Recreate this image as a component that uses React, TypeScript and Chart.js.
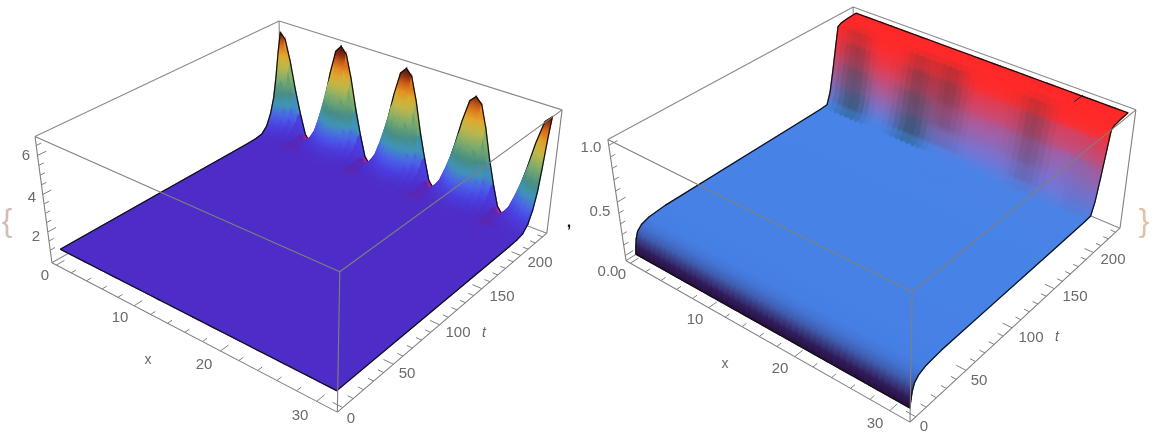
import React, { useEffect, useRef } from "react";
import { Chart, registerables } from "chart.js";

Chart.register(...registerables);

// ---------- data ----------
const xGrid = [0,.65,1.31,1.96,2.62,3.27,3.93,4.58,5.23,5.89,6.54,7.2,7.85,8.5,9.16,9.81,10.47,11.12,11.78,12.43,13.09,13.74,14.39,15.05,15.7,16.35,17.01,17.66,18.32,18.97,19.63,20.28,20.94,21.59,22.24,22.9,23.55,24.2,24.86,25.51,26.17,26.82,27.48,28.13,28.79,29.44,30.09,30.75,31.4];

const leftFlatT = [0, 100, 170, 190];
const leftFlatU = [1.0, 1.0, 1.0, 1.0];
const leftHumpT = [200, 208, 214, 219, 223, 226, 229, 232];
const leftHumpU = [
  [1.02,1.02,1.01,1,1,.99,.98,.99,1,1,1.01,1.02,1.02,1.02,1.01,1,1,.99,.98,.99,1,1,1.01,1.02,1.02,1.02,1.01,1,1,.99,.98,.99,1,1,1.01,1.02,1.02,1.02,1.01,1,1,.99,.98,.99,1,1,1.01,1.02,1.02],
  [1.1,1.09,1.07,1.03,1,.96,.93,.96,1,1.03,1.07,1.09,1.1,1.09,1.07,1.03,1,.96,.93,.96,1,1.03,1.07,1.09,1.1,1.09,1.07,1.03,1,.96,.93,.96,1,1.03,1.07,1.09,1.1,1.09,1.07,1.03,1,.96,.93,.96,1,1.03,1.07,1.09,1.1],
  [1.42,1.39,1.3,1.18,1.08,1,.92,1,1.08,1.18,1.3,1.39,1.42,1.39,1.3,1.18,1.08,1,.92,1,1.08,1.18,1.3,1.39,1.42,1.39,1.3,1.18,1.08,1,.92,1,1.08,1.18,1.3,1.39,1.42,1.39,1.3,1.18,1.08,1,.92,1,1.08,1.18,1.3,1.39,1.42],
  [2.06,1.98,1.76,1.48,1.23,1.04,.9,1.06,1.24,1.5,1.8,2.03,2.12,2.03,1.8,1.5,1.24,1.04,.9,1.06,1.23,1.48,1.76,1.98,2.06,1.98,1.76,1.48,1.23,1.04,.9,1.05,1.22,1.45,1.72,1.93,2,1.93,1.72,1.45,1.22,1.04,.9,1.06,1.23,1.47,1.74,1.96,2.04],
  [2.9,2.77,2.37,1.86,1.41,1.08,.85,1.12,1.43,1.9,2.44,2.85,3,2.85,2.44,1.9,1.43,1.08,.85,1.12,1.42,1.87,2.38,2.78,2.92,2.78,2.38,1.87,1.42,1.08,.85,1.11,1.4,1.82,2.31,2.7,2.84,2.7,2.31,1.82,1.4,1.08,.85,1.12,1.42,1.86,2.37,2.76,2.9],
  [4,3.79,3.16,2.35,1.66,1.05,.75,1.15,1.7,2.43,3.28,3.95,4.17,3.95,3.28,2.43,1.7,1.05,.75,1.15,1.69,2.41,3.25,3.91,4.13,3.91,3.25,2.41,1.69,1.05,.75,1.15,1.65,2.34,3.14,3.76,3.97,3.76,3.14,2.34,1.65,1.05,.75,1.15,1.68,2.39,3.22,3.86,4.08],
  [5.38,5.16,4.29,3.06,2.01,1,.65,1.1,2.06,3.17,4.47,5.39,5.62,5.39,4.47,3.17,2.06,1,.65,1.1,2.05,3.14,4.42,5.33,5.56,5.33,4.42,3.14,2.05,1,.65,1.1,1.99,3.03,4.24,5.1,5.32,5.1,4.24,3.03,1.99,1,.65,1.1,2.03,3.11,4.36,5.26,5.48],
  [6.47,6.14,4.94,3.41,2.09,.95,.55,1.05,2.15,3.54,5.15,6.42,6.77,6.42,5.15,3.54,2.15,.95,.55,1.05,2.14,3.51,5.1,6.36,6.7,6.36,5.1,3.51,2.14,.95,.55,1.05,2.08,3.38,4.89,6.08,6.4,6.08,4.89,3.38,2.08,.95,.55,1.05,2.12,3.46,5.03,6.26,6.6],
];

const rightT = [0,1,2,4,8,15,30,80,150,190,198,202,206,210,213,217,225,234];
const rightV = [0,.07,.13,.19,.23,.255,.27,.275,.28,.285,.29,.4,.6,.82,.98,1,1.01,1.015];
const rightStripeLow = [.05,.2,.4,.6,.75,.8,.7,.45,.2,.05,0,.05,.15,.35,.55,.75,.85,.8,.6,.35,.15,.05,0,0,.05,.05,0,0,0,0,0,0,0,0,.05,.1,.15,.15,.1,.05,0,0,0,.05,.1,.1,.1,.1,.05];
const rightStripeHigh = [0,.1,.25,.4,.5,.5,.35,.15,.05,0,0,0,.05,.1,.25,.45,.6,.55,.45,.4,.5,.65,.7,.55,.35,.15,.05,0,0,0,0,0,.05,.1,.2,.4,.55,.5,.35,.2,.05,0,0,0,0,0,0,0,0];
const rightFade = [0,0,0,0,0,0,0,0,0,0,0,0,0,0,0,0,.05,.1,.1,.15,.15,.2,.2,.25,.3,.3,.35,.35,.4,.4,.45,.5,.5,.55,.55,.6,.6,.65,.65,.7,.7,.7,.75,.75,.75,.7,.6,.5,.4];

const xTicksMajor = [0, 10, 20, 30];
const xTicksMinor = [2,4,6,8,12,14,16,18,22,24,26,28];
const tTicksMajor = [0, 50, 100, 150, 200];
const tTicksMinor = [10,20,30,40,60,70,80,90,110,120,130,140,160,170,180,190,210,220,230];
const leftZMajor = [2, 4, 6];
const leftZMinor = [1,1.5,2.5,3,3.5,4.5,5,5.5,6.5];
const rightZMajor = [0, .5, 1];
const rightZMinor = [.1,.2,.3,.4,.6,.7,.8,.9];

const leftStops: [number, number[]][] = [
  [.55,[215,30,170]],[.8,[170,35,180]],[.92,[95,36,170]],[1,[78,44,200]],[1.5,[74,63,224]],[2,[74,98,232]],[2.6,[63,149,184]],
  [3.2,[70,140,130]],[3.9,[120,170,112]],[4.7,[192,184,74]],[5.3,[228,165,40]],[5.9,[215,100,24]],[6.4,[120,35,16]],[6.8,[70,20,10]],
];
const rightStops: [number, number[]][] = [
  [0,[38,14,62]],[.07,[48,28,90]],[.13,[58,60,130]],[.19,[64,96,180]],[.25,[70,126,226]],[.29,[72,132,232]],
  [.4,[115,118,210]],[.6,[178,88,145]],[.82,[236,54,70]],[.98,[255,42,42]],[1.02,[255,40,40]],
];

// ---------- drawing set-up ----------
type Box = { corners: number[][]; xr: number[]; tr: number[]; zr: number[] };
const leftBox: Box = {
  corners: [[52,263,0,0,0],[337,412,1,0,0],[547,233,1,1,0],[35,136,0,0,1],[340,272,1,0,1],[562,110,1,1,1],[279,21,0,1,1]],
  xr: [-.6, 32], tr: [-5, 236], zr: [.3, 6.95],
};
const rightBox: Box = {
  corners: [[626,261,0,0,0],[910,422,1,0,0],[1120,228,1,1,0],[608,139,0,0,1],[912,292,1,0,1],[1136,110,1,1,1],[853,7,0,1,1]],
  xr: [-.6, 32], tr: [-5.5, 236], zr: [-.05, 1.05],
};
const labels: [string, number, number][] = [
  ["0",45,276],["10",120,318],["20",204,365],["30",300,416],["0",351,419],["50",407,374],["100",458,333],["150",502,297],["200",540,263],
  ["2",36,237],["4",32,198],["6",26,156],
  ["0",622,275],["10",695,320],["20",780,369],["30",875,424],["0",924,427],["50",979,381],["100",1031,338],["150",1075,297],["200",1113,260],
  ["1.0",591,148],["0.5",600,212],["0.0",608,272],
];
const xNames: [string, number, number][] = [["x",148,360],["x",725,364]];
const tNames: [string, number, number][] = [["t",484,333],["t",1057,337]];
const strayMark = [{ x: 1074, y: 102 }, { x: 1083, y: 95 }];

function solveProjection(corners: number[][]) {
  const A: number[][] = [];
  const b: number[] = [];
  for (const [u, v, X, T, Z] of corners) {
    A.push([1, X, T, Z, 0, 0, 0, 0, -u * X, -u * T, -u * Z]); b.push(u);
    A.push([0, 0, 0, 0, 1, X, T, Z, -v * X, -v * T, -v * Z]); b.push(v);
  }
  const n = 11;
  const M: number[][] = [];
  for (let i = 0; i < n; i++) {
    const row: number[] = [];
    for (let j = 0; j < n; j++) row.push(A.reduce((s, r) => s + r[i] * r[j], 0));
    row.push(A.reduce((s, r, k) => s + r[i] * b[k], 0));
    M.push(row);
  }
  for (let i = 0; i < n; i++) {
    let p = i;
    for (let r = i + 1; r < n; r++) if (Math.abs(M[r][i]) > Math.abs(M[p][i])) p = r;
    [M[i], M[p]] = [M[p], M[i]];
    for (let r = 0; r < n; r++) {
      if (r === i) continue;
      const f = M[r][i] / M[i][i];
      for (let c = i; c <= n; c++) M[r][c] -= f * M[i][c];
    }
  }
  return M.map((r, i) => r[n] / r[i]);
}

function projector(box: Box) {
  const p = solveProjection(box.corners);
  return (x: number, t: number, z: number) => {
    const X = (x - box.xr[0]) / (box.xr[1] - box.xr[0]);
    const T = (t - box.tr[0]) / (box.tr[1] - box.tr[0]);
    const Z = (z - box.zr[0]) / (box.zr[1] - box.zr[0]);
    const w = 1 + p[8] * X + p[9] * T + p[10] * Z;
    return { x: (p[0] + p[1] * X + p[2] * T + p[3] * Z) / w, y: (p[4] + p[5] * X + p[6] * T + p[7] * Z) / w };
  };
}

function ramp(stops: [number, number[]][], v: number) {
  if (v <= stops[0][0]) return stops[0][1];
  for (let i = 1; i < stops.length; i++) {
    if (v <= stops[i][0]) {
      const f = (v - stops[i - 1][0]) / (stops[i][0] - stops[i - 1][0]);
      return stops[i - 1][1].map((c, k) => c + (stops[i][1][k] - c) * f);
    }
  }
  return stops[stops.length - 1][1];
}
const css = (c: number[]) => `rgb(${c.map((v) => Math.round(v)).join(",")})`;
const mix = (a: number[], b: number[], f: number) => a.map((c, i) => c + (b[i] - c) * f);

const BREAK = { x: NaN, y: NaN };
const lineSet = (data: any[], color: string, width: number) => ({
  data, borderColor: color, borderWidth: width, pointRadius: 0, fill: false, tension: 0, borderJoinStyle: "round",
});

function surface(
  ctx: CanvasRenderingContext2D,
  out: any[],
  P: ReturnType<typeof projector>,
  ts: number[],
  U: (i: number, j: number) => number,
  colorAt: (i: number, j: number, v: number) => number[],
) {
  const nx = xGrid.length;
  const nt = ts.length;
  for (let j = nt - 2; j >= 0; j--) {
    for (let i = 0; i < nx - 1; i++) {
      const a = P(xGrid[i], ts[j], U(i, j));
      const b = P(xGrid[i + 1], ts[j], U(i + 1, j));
      const c = P(xGrid[i + 1], ts[j + 1], U(i + 1, j + 1));
      const d = P(xGrid[i], ts[j + 1], U(i, j + 1));
      const g = ctx.createLinearGradient((a.x + b.x) / 2, (a.y + b.y) / 2, (c.x + d.x) / 2, (c.y + d.y) / 2);
      const lo = (U(i, j) + U(i + 1, j)) / 2;
      const hi = (U(i, j + 1) + U(i + 1, j + 1)) / 2;
      for (let s = 0; s <= 4; s++) {
        const f = s / 4;
        const jj = f < .5 ? j : j + 1;
        g.addColorStop(f, css(mix(colorAt(i, jj, lo + (hi - lo) * f), colorAt(i + 1, jj, lo + (hi - lo) * f), .5)));
      }
      out.push({
        data: [a, b, c, d, a], backgroundColor: g, borderColor: g, borderWidth: 1.4, fill: "shape", pointRadius: 0, tension: 0,
      });
    }
    if (j === nt - 2) {
      out.push(lineSet(xGrid.map((x, i) => P(x, ts[nt - 1], U(i, nt - 1))), "#111", 1.2));
    }
  }
}

function boxEdges(P: ReturnType<typeof projector>, b: Box, front: boolean) {
  const [x0, x1] = b.xr, [t0, t1] = b.tr, [z0, z1] = b.zr;
  const seg = (p: number[], q: number[]) => [P(p[0], p[1], p[2]), P(q[0], q[1], q[2]), BREAK];
  const f = [
    seg([x0,t0,z1],[x1,t0,z1]), seg([x1,t0,z1],[x1,t1,z1]), seg([x1,t0,z0],[x1,t0,z1]),
    seg([x0,t0,z0],[x1,t0,z0]), seg([x1,t0,z0],[x1,t1,z0]), seg([x1,t1,z0],[x1,t1,z1]), seg([x0,t0,z0],[x0,t0,z1]),
  ];
  const k = [
    seg([x0,t0,z1],[x0,t1,z1]), seg([x0,t1,z1],[x1,t1,z1]), seg([x0,t1,z0],[x0,t1,z1]),
    seg([x0,t0,z0],[x0,t1,z0]), seg([x0,t1,z0],[x1,t1,z0]),
  ];
  return (front ? f : k).flat();
}

function ticks(P: ReturnType<typeof projector>, b: Box, zMajor: number[], zMinor: number[]) {
  const out: any[] = [];
  const [x0, x1] = b.xr, [t0] = b.tr, [z0] = b.zr;
  const xL = (x1 - x0), tL = b.tr[1] - b.tr[0];
  const add = (p: any, q: any) => out.push(p, q, BREAK);
  xTicksMajor.forEach((x) => add(P(x, t0, z0), P(x, t0 + .03 * tL, z0)));
  xTicksMinor.forEach((x) => add(P(x, t0, z0), P(x, t0 + .017 * tL, z0)));
  tTicksMajor.forEach((t) => add(P(x1, t, z0), P(x1 - .03 * xL, t, z0)));
  tTicksMinor.forEach((t) => add(P(x1, t, z0), P(x1 - .017 * xL, t, z0)));
  zMajor.forEach((z) => add(P(x0, t0, z), P(x0, t0 + .03 * tL, z)));
  zMinor.forEach((z) => add(P(x0, t0, z), P(x0, t0 + .017 * tL, z)));
  return out;
}

const textPlugin = {
  id: "plotText",
  afterDatasetsDraw(chart: any) {
    const { ctx, scales } = chart;
    const at = (x: number, y: number): [number, number] => [scales.x.getPixelForValue(x), scales.y.getPixelForValue(y)];
    ctx.save();
    ctx.textAlign = "center";
    ctx.textBaseline = "middle";
    ctx.fillStyle = "#6a6a6a";
    ctx.font = '15px "Liberation Sans"';
    labels.forEach(([s, x, y]) => ctx.fillText(s, ...at(x, y)));
    ctx.font = '14px "Liberation Sans"';
    xNames.forEach(([s, x, y]) => ctx.fillText(s, ...at(x, y)));
    ctx.font = 'italic 14px "Liberation Sans"';
    tNames.forEach(([s, x, y]) => ctx.fillText(s, ...at(x, y)));
    ctx.font = '32px "Liberation Sans Narrow", "Liberation Sans"';
    ctx.fillStyle = "#d4bcb8";
    ctx.fillText("{", ...at(7, 222));
    ctx.fillStyle = "#e4c0a4";
    ctx.fillText("}", ...at(1144, 222));
    ctx.font = 'bold 16px "Liberation Sans"';
    ctx.fillStyle = "#1a1208";
    ctx.fillText(",", ...at(569, 223));
    ctx.restore();
  },
};

export default function App() {
  const ref = useRef<HTMLCanvasElement | null>(null);
  useEffect(() => {
    const canvas = ref.current!;
    const ctx = canvas.getContext("2d")!;
    const sets: any[] = [];

    // left surface
    const PL = projector(leftBox);
    sets.push(lineSet(boxEdges(PL, leftBox, false), "#8a8a8a", 1.1));
    const leftT = [...leftFlatT, ...leftHumpT];
    const uL = (i: number, j: number) => (j < leftFlatT.length ? leftFlatU[j] : leftHumpU[j - leftFlatT.length][i]);
    surface(ctx, sets, PL, leftT, uL, (_i, _j, v) => ramp(leftStops, v));
    sets.push(lineSet(leftT.map((t, j) => PL(xGrid[0], t, uL(0, j))), "#111", 1.2));
    sets.push(lineSet(leftT.map((t, j) => PL(xGrid[48], t, uL(48, j))), "#111", 1.2));
    sets.push(lineSet(xGrid.map((x, i) => PL(x, leftT[0], uL(i, 0))), "#111", 1.2));
    sets.push(lineSet(boxEdges(PL, leftBox, true), "#80807a", 1.1));
    sets.push(lineSet(ticks(PL, leftBox, leftZMajor, leftZMinor), "#808080", 1));

    // right surface
    const PR = projector(rightBox);
    sets.push(lineSet(boxEdges(PR, rightBox, false), "#8a8a8a", 1.1));
    const uR = (_i: number, j: number) => rightV[j];
    const teal = [32, 78, 92];
    const brown = [84, 52, 66];
    const purple = [120, 115, 215];
    const colR = (i: number, j: number, v: number) => {
      let c = ramp(rightStops, v);
      const t = rightT[j];
      if (t >= 190 && t <= 210) {
        const k = t === 190 ? .1 : t === 198 ? .5 : t === 202 ? .75 : t === 206 ? .65 : .3;
        c = mix(c, purple, rightFade[i] * k);
      }
      if (t < 198) return c;
      const low = t <= 198 ? .5 : t <= 202 ? .75 : t <= 206 ? .5 : t <= 210 ? .15 : 0;
      const high = t <= 198 ? 0 : t <= 202 ? .25 : t <= 206 ? .55 : t <= 210 ? .75 : t <= 213 ? .55 : t <= 217 ? .2 : 0;
      c = mix(c, teal, Math.min(1, rightStripeLow[i] * low));
      return mix(c, brown, Math.min(1, rightStripeHigh[i] * high));
    };
    surface(ctx, sets, PR, rightT, uR, colR);
    sets.push(lineSet(rightT.map((t, j) => PR(xGrid[0], t, rightV[j])), "#111", 1.2));
    sets.push(lineSet(rightT.map((t, j) => PR(xGrid[48], t, rightV[j])), "#111", 1.2));
    sets.push(lineSet(xGrid.map((x) => PR(x, rightT[0], rightV[0])), "#111", 1.2));
    sets.push(lineSet(strayMark, "#222", 1));
    sets.push(lineSet(boxEdges(PR, rightBox, true), "#80807a", 1.1));
    sets.push(lineSet(ticks(PR, rightBox, rightZMajor, rightZMinor), "#808080", 1));

    const chart = new Chart(canvas, {
      type: "line",
      data: { datasets: sets.reverse() },
      plugins: [textPlugin],
      options: {
        animation: false,
        responsive: false,
        events: [],
        layout: { padding: 0 },
        plugins: { legend: { display: false }, tooltip: { enabled: false } },
        scales: {
          x: { type: "linear", min: 0, max: 1159, display: false },
          y: { type: "linear", min: 0, max: 443, reverse: true, display: false },
        },
      },
    } as any);
    return () => chart.destroy();
  }, []);
  return (
    <div style={{ position: "absolute", left: 0, top: 0, width: 1159, height: 443, background: "#fff" }}>
      <canvas ref={ref} width={1159} height={443} style={{ display: "block", width: 1159, height: 443, filter: "blur(0.7px)" }} />
    </div>
  );
}
